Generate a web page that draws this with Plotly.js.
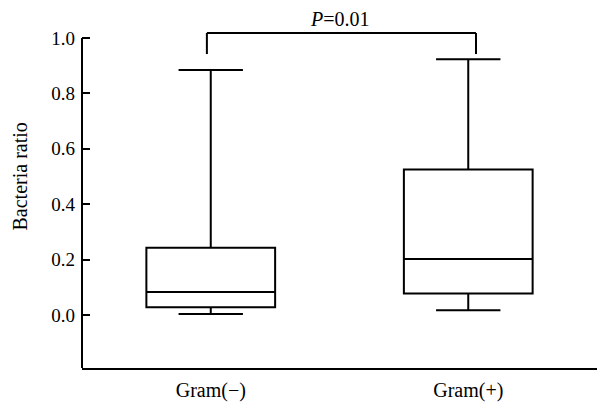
<!DOCTYPE html>
<html>
<head>
<meta charset="utf-8">
<script src="https://cdn.plot.ly/plotly-3.0.1.min.js"></script>
<style>html,body{margin:0;padding:0;background:#fff;}#chart{width:597px;height:403px;}</style>
</head>
<body>
<div id="chart"></div>
<script>
const categories = ['Gram(\u2212)', 'Gram(+)'];
const lowerWhisker = [0.004, 0.017];
const q1Values = [0.028, 0.078];
const medianValues = [0.083, 0.202];
const q3Values = [0.243, 0.525];
const upperWhisker = [0.884, 0.923];
const yTicks = [0, 0.2, 0.4, 0.6, 0.8, 1.0];
const yTickLabels = ['0.0', '0.2', '0.4', '0.6', '0.8', '1.0'];
const pLabel = '<i>P</i>=0.01';

const font = 'Liberation Serif, Times New Roman, serif';
const yMin = -0.1913, yMax = 1.101;

const trace = {
  type: 'box',
  x: categories,
  q1: q1Values,
  median: medianValues,
  q3: q3Values,
  lowerfence: lowerWhisker,
  upperfence: upperWhisker,
  boxpoints: false,
  width: 0.5,
  whiskerwidth: 0.5,
  fillcolor: 'rgba(255,255,255,0)',
  line: {color: '#000', width: 2},
  hoverinfo: 'none',
  showlegend: false
};

const layout = {
  width: 597, height: 403,
  margin: {l: 82, r: 0, t: 10, b: 35},
  paper_bgcolor: '#fff', plot_bgcolor: '#fff',
  showlegend: false,
  font: {family: font, color: '#000', size: 20},
  xaxis: {
    type: 'category',
    range: [-0.5, 1.5],
    showline: true, linecolor: '#000', linewidth: 2,
    showgrid: false, zeroline: false, ticks: '',
    tickfont: {family: font, size: 20, color: '#000'},
    ticklabelstandoff: 3
  },
  yaxis: {
    range: [yMin, yMax],
    showline: false, showgrid: false, zeroline: false,
    ticks: 'inside', ticklen: 8, tickwidth: 2, tickcolor: '#000',
    tickvals: yTicks, ticktext: yTickLabels,
    tickfont: {family: font, size: 19, color: '#000'},
    ticklabelstandoff: 6
  },
  shapes: [
    {type: 'line', xref: 'paper', yref: 'y', x0: 0, x1: 0, y0: yMin, y1: 1.0,
     line: {color: '#000', width: 2}},
    {type: 'line', xref: 'x', yref: 'y', x0: -0.015, x1: -0.015, y0: 0.942, y1: 1.018,
     line: {color: '#000', width: 2}},
    {type: 'line', xref: 'x', yref: 'y', x0: -0.015, x1: 1.03, y0: 1.018, y1: 1.018,
     line: {color: '#000', width: 2}},
    {type: 'line', xref: 'x', yref: 'y', x0: 1.03, x1: 1.03, y0: 0.942, y1: 1.018,
     line: {color: '#000', width: 2}}
  ],
  annotations: [
    {text: pLabel, xref: 'x', yref: 'y', x: 0.502, y: 1.067, showarrow: false,
     xanchor: 'center', yanchor: 'middle', font: {family: font, size: 20, color: '#000'}},
    {text: 'Bacteria ratio', xref: 'paper', yref: 'y', x: 0, y: 0.5, xshift: -62,
     showarrow: false, textangle: -90, xanchor: 'center', yanchor: 'middle',
     font: {family: font, size: 20, color: '#000'}}
  ]
};

Plotly.newPlot('chart', [trace], layout, {staticPlot: true, displayModeBar: false});
</script>
</body>
</html>
